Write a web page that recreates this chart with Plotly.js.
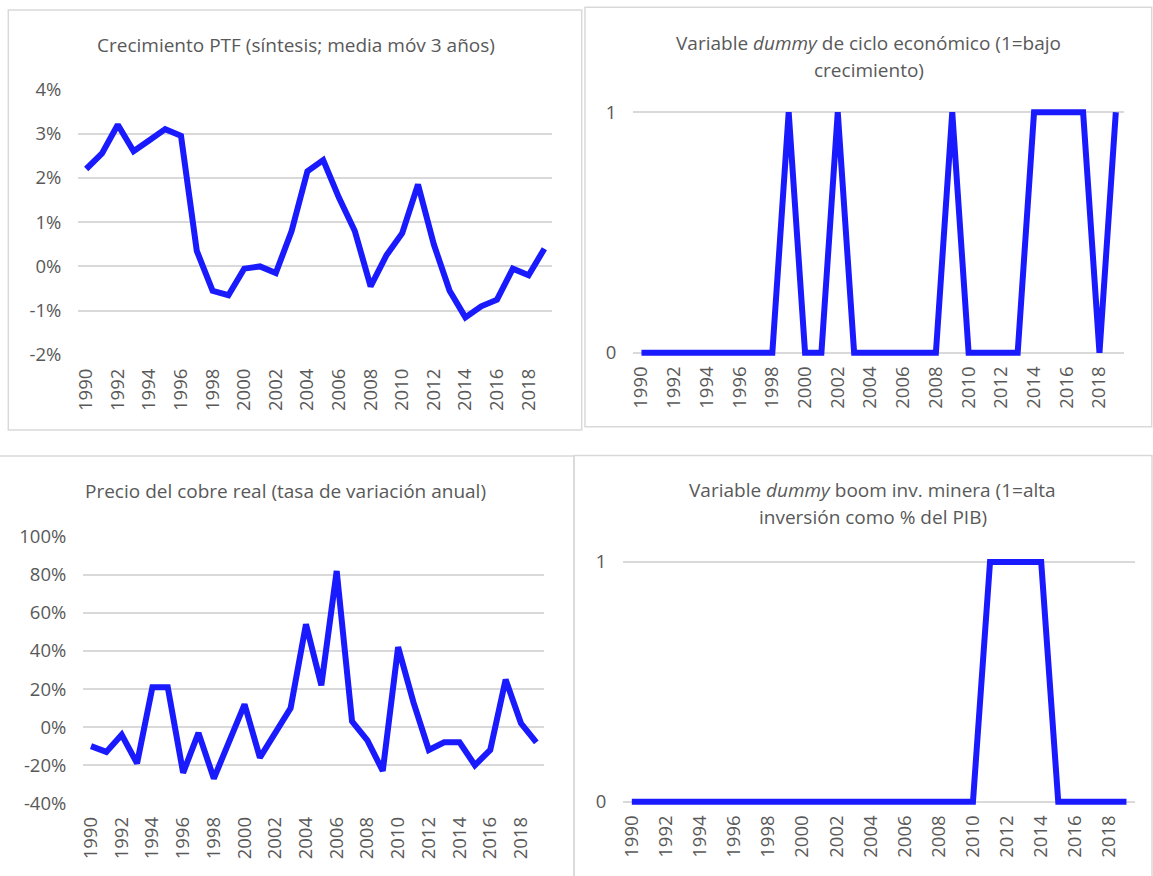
<!DOCTYPE html>
<html>
<head>
<meta charset="utf-8">
<script src="https://cdn.plot.ly/plotly-3.0.1.min.js"></script>
<style>html,body{margin:0;padding:0;background:#fff;}#chart{width:1153px;height:876px;}</style>
</head>
<body>
<div id="chart"></div>
<script>
// ---------- DATA ----------
const years = [1990,1991,1992,1993,1994,1995,1996,1997,1998,1999,2000,2001,2002,2003,2004,2005,2006,2007,2008,2009,2010,2011,2012,2013,2014,2015,2016,2017,2018,2019];
// Crecimiento PTF (%), media móvil 3 años
const ptf = [2.2,2.55,3.2,2.6,2.85,3.1,2.95,0.35,-0.55,-0.65,-0.05,0.0,-0.15,0.8,2.15,2.4,1.55,0.8,-0.45,0.25,0.75,1.85,0.5,-0.55,-1.15,-0.9,-0.75,-0.05,-0.2,0.4];
// Dummy ciclo económico (1 = bajo crecimiento)
const dummyCiclo = [0,0,0,0,0,0,0,0,0,1,0,0,1,0,0,0,0,0,0,1,0,0,0,0,1,1,1,1,0,1];
// Precio del cobre real, tasa de variación anual (%)
const cobre = [-10,-13,-4,-19,21,21,-24,-3,-27,-7,12,-16,-3,10,54,22,82,3,-7,-23,42,13,-12,-8,-8,-20,-12,25,2,-8];
// Dummy boom inversión minera (1 = alta inversión como % del PIB)
const dummyMinera = [0,0,0,0,0,0,0,0,0,0,0,0,0,0,0,0,0,0,0,0,0,1,1,1,1,0,0,0,0,0];

const xTickVals = [1990,1992,1994,1996,1998,2000,2002,2004,2006,2008,2010,2012,2014,2016,2018];
const xTickText = ["1990","1992","1994","1996","1998","2000","2002","2004","2006","2008","2010","2012","2014","2016","2018"];
const ptfTickVals = [-2,-1,0,1,2,3,4];
const ptfTickText = ["-2%","-1%","0%","1%","2%","3%","4%"];
const cobreTickVals = [-40,-20,0,20,40,60,80,100];
const cobreTickText = ["-40%","-20%","0%","20%","40%","60%","80%","100%"];
const dummyTickVals = [0,1];
const dummyTickText = ["0","1"];

const titles = {
  t1: ["Crecimiento PTF (síntesis; media móv 3 años)"],
  t2: ["Variable <i>dummy</i> de ciclo económico (1=bajo", "crecimiento)"],
  t3: ["Precio del cobre real (tasa de variación anual)"],
  t4: ["Variable <i>dummy</i> boom inv. minera (1=alta", "inversión como % del PIB)"]
};

// ---------- LAYOUT HELPERS ----------
const W = 1153, H = 876;
const px = v => v / W;
const py = v => 1 - v / H;
const FONT = "Open Sans, sans-serif";
const GRAY = "#595959";
const GRID = "#d9d9d9";
const BLUE = "#1a1aff";
const tickFont = {family: FONT, size: 18.5, color: GRAY};
const titleFont = {family: FONT, size: 19, color: GRAY};
const LW = 6;

function xAxis(x0, x1, yPos) {
  return {
    domain: [px(x0), px(x1)], range: [1989.5, 2019.5],
    anchor: 'free', position: py(yPos),
    tickvals: xTickVals, ticktext: xTickText, tickangle: -90,
    showgrid: false, zeroline: false, showline: false, ticks: '',
    ticklabelstandoff: 9, tickfont: tickFont, fixedrange: true
  };
}
function yAxis(top, bottom, range, tv, tt, anchorX) {
  return {
    domain: [py(bottom), py(top)], range: range, anchor: anchorX,
    tickvals: tv, ticktext: tt, showgrid: true, gridcolor: GRID, gridwidth: 2,
    zeroline: false, showline: false, ticks: '', ticklabelstandoff: 16,
    tickfont: tickFont, fixedrange: true
  };
}

const traces = [
  {x: years, y: ptf, xaxis: 'x', yaxis: 'y', type: 'scatter', mode: 'lines', line: {color: BLUE, width: LW}},
  {x: years, y: dummyCiclo, xaxis: 'x2', yaxis: 'y2', type: 'scatter', mode: 'lines', line: {color: BLUE, width: LW}},
  {x: years, y: cobre, xaxis: 'x3', yaxis: 'y3', type: 'scatter', mode: 'lines', line: {color: BLUE, width: LW}},
  {x: years, y: dummyMinera, xaxis: 'x4', yaxis: 'y4', type: 'scatter', mode: 'lines', line: {color: BLUE, width: LW}}
];

// dummy panels: pad range so line at 0/1 is not clipped
const pad = 0.05;
const p2one = 112.3, p2zero = 352.7, p2u = p2zero - p2one;
const p4one = 562, p4zero = 801.7, p4u = p4zero - p4one;

function title(text, x, y) {
  return {text: text, x: px(x), y: py(y), xref: 'paper', yref: 'paper', showarrow: false,
          xanchor: 'center', yanchor: 'middle', font: titleFont};
}

const layout = {
  width: W, height: H, margin: {l: 0, r: 0, t: 0, b: 0},
  paper_bgcolor: '#ffffff', plot_bgcolor: 'rgba(0,0,0,0)',
  showlegend: false,
  xaxis: xAxis(78.3, 552.3, 355),
  yaxis: yAxis(89.3, 355, [-2, 4], ptfTickVals, ptfTickText, 'x'),
  xaxis2: xAxis(633.3, 1124, p2zero),
  yaxis2: yAxis(p2one - pad * p2u, p2zero + pad * p2u, [-pad, 1 + pad], dummyTickVals, dummyTickText, 'x2'),
  xaxis3: xAxis(83.3, 544, 803.3),
  yaxis3: yAxis(536.7, 803.3, [-40, 100], cobreTickVals, cobreTickText, 'x3'),
  xaxis4: xAxis(623.3, 1135, p4zero),
  yaxis4: yAxis(p4one - pad * p4u, p4zero + pad * p4u, [-pad, 1 + pad], dummyTickVals, dummyTickText, 'x4'),
  shapes: [
    {type: 'rect', xref: 'paper', yref: 'paper', x0: px(8.3), x1: px(581.7), y0: py(430), y1: py(10), line: {color: GRID, width: 1.5}},
    {type: 'rect', xref: 'paper', yref: 'paper', x0: px(585), x1: px(1151.7), y0: py(426.7), y1: py(7.3), line: {color: GRID, width: 1.5}},
    {type: 'rect', xref: 'paper', yref: 'paper', x0: px(-3), x1: px(574), y0: py(880), y1: py(456), line: {color: GRID, width: 1.5}},
    {type: 'rect', xref: 'paper', yref: 'paper', x0: px(574), x1: px(1152), y0: py(880), y1: py(455.5), line: {color: GRID, width: 1.5}}
  ],
  annotations: [
    title(titles.t1[0], 295.5, 45),
    title(titles.t2[0], 868.5, 43),
    title(titles.t2[1], 868.5, 70),
    title(titles.t3[0], 285.5, 491),
    title(titles.t4[0], 872.5, 490),
    title(titles.t4[1], 872.5, 517)
  ]
};

Plotly.newPlot('chart', traces, layout, {staticPlot: true, displayModeBar: false});
</script>
</body>
</html>
